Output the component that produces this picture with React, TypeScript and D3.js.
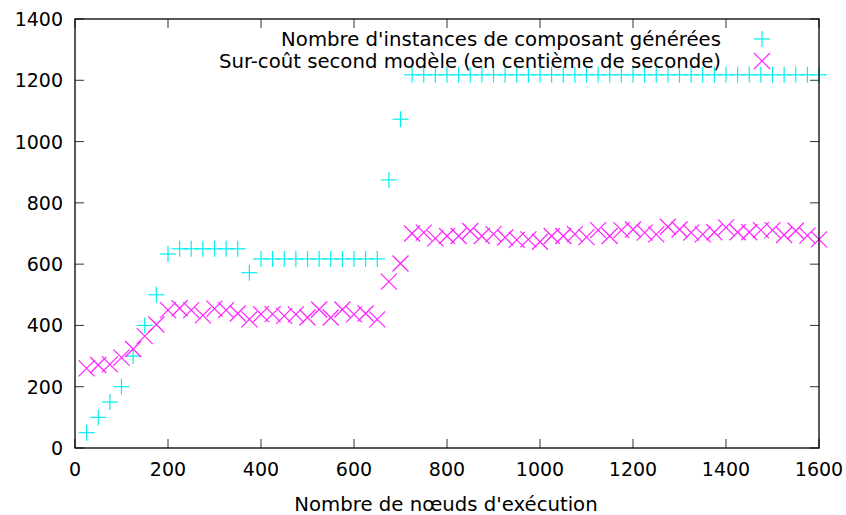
import React from "react";
import * as d3 from "d3";

const nodes = [
  25, 50, 75, 100, 125, 150, 175, 200, 225, 250, 275, 300, 325, 350, 375, 400,
  425, 450, 475, 500, 525, 550, 575, 600, 625, 650, 675, 700, 725, 750, 775, 800,
  825, 850, 875, 900, 925, 950, 975, 1000, 1025, 1050, 1075, 1100, 1125, 1150, 1175, 1200,
  1225, 1250, 1275, 1300, 1325, 1350, 1375, 1400, 1425, 1450, 1475, 1500, 1525, 1550, 1575, 1600,
];

const instances = [
  50, 100, 150, 200, 300, 400, 500, 633, 650, 650, 650, 650, 650, 650, 572, 617,
  617, 617, 617, 617, 617, 617, 617, 617, 617, 617, 875, 1073, 1218, 1218, 1218, 1218,
  1218, 1218, 1218, 1218, 1218, 1218, 1218, 1218, 1218, 1218, 1218, 1218, 1218, 1218, 1218, 1218,
  1218, 1218, 1218, 1218, 1218, 1218, 1218, 1218, 1218, 1218, 1218, 1218, 1218, 1218, 1218, 1218,
];

const overhead = [
  260, 271, 273, 295, 323, 365, 403, 450, 456, 450, 433, 455, 450, 439, 420, 437,
  437, 431, 436, 426, 452, 426, 452, 436, 439, 420, 543, 602, 700, 703, 684, 692,
  692, 708, 692, 698, 687, 679, 681, 673, 692, 692, 698, 688, 711, 692, 711, 713,
  703, 697, 722, 713, 703, 697, 704, 720, 704, 704, 711, 711, 695, 709, 693, 681,
];

const xTicks = [0, 200, 400, 600, 800, 1000, 1200, 1400, 1600];
const yTicks = [0, 200, 400, 600, 800, 1000, 1200, 1400];

const seriesLabels = [
  "Nombre d'instances de composant générées",
  "Sur-coût second modèle (en centième de seconde)",
];
const xTitle = "Nombre de nœuds d'exécution";

const W = 846;
const H = 515;
const L = 75;
const R = 819;
const T = 19;
const B = 448;
const FONT = "'DejaVu Sans', sans-serif";
const FS = 19;
const FS_TEXT = 19.7;
const CYAN = "#00f0f0";
const MAGENTA = "#ff22ff";
const MS = 8;

function Plus({ x, y, c }: { x: number; y: number; c: string }) {
  return (
    <g stroke={c} strokeWidth={1.2}>
      <line x1={x - MS} x2={x + MS} y1={y} y2={y} />
      <line x1={x} x2={x} y1={y - MS} y2={y + MS} />
    </g>
  );
}

function Cross({ x, y, c }: { x: number; y: number; c: string }) {
  return (
    <g stroke={c} strokeWidth={1.2}>
      <line x1={x - MS} x2={x + MS} y1={y - MS} y2={y + MS} />
      <line x1={x - MS} x2={x + MS} y1={y + MS} y2={y - MS} />
    </g>
  );
}

export default function App() {
  const x = d3.scaleLinear().domain([0, 1600]).range([L, R]);
  const y = d3.scaleLinear().domain([0, 1400]).range([B, T]);
  const tick = 9;

  return (
    <svg
      width={W}
      height={H}
      style={{ position: "absolute", left: 0, top: 0, background: "#fff" }}
      fontFamily={FONT}
      fontSize={FS}
    >
      <rect x={0} y={0} width={W} height={H} fill="#fff" />
      {/* ticks */}
      <g stroke="#333" strokeWidth={1}>
        {xTicks.map((t) => (
          <g key={"xt" + t}>
            <line x1={x(t)} x2={x(t)} y1={B} y2={B - tick} />
            <line x1={x(t)} x2={x(t)} y1={T} y2={T + tick} />
          </g>
        ))}
        {yTicks.map((t) => (
          <g key={"yt" + t}>
            <line x1={L} x2={L + tick} y1={y(t)} y2={y(t)} />
            <line x1={R} x2={R - tick} y1={y(t)} y2={y(t)} />
          </g>
        ))}
      </g>
      {/* tick labels */}
      {xTicks.map((t) => (
        <text key={"xl" + t} x={x(t)} y={476} textAnchor="middle" fill="#000">
          {t}
        </text>
      ))}
      {yTicks.map((t) => (
        <text key={"yl" + t} x={63} y={y(t) + 7} textAnchor="end" fill="#000">
          {t}
        </text>
      ))}
      <text x={446} y={511} textAnchor="middle" fill="#000" fontSize={FS_TEXT}>
        {xTitle}
      </text>
      {/* series */}
      {nodes.map((n, i) => (
        <Plus key={"p" + i} x={x(n)} y={y(instances[i])} c={CYAN} />
      ))}
      {nodes.map((n, i) => (
        <Cross key={"c" + i} x={x(n)} y={y(overhead[i])} c={MAGENTA} />
      ))}
      {/* legend */}
      <text x={721} y={46} textAnchor="end" fill="#000" fontSize={FS_TEXT}>
        {seriesLabels[0]}
      </text>
      <Plus x={762} y={39} c={CYAN} />
      <text x={721} y={68} textAnchor="end" fill="#000" fontSize={FS_TEXT}>
        {seriesLabels[1]}
      </text>
      <Cross x={762} y={61} c={MAGENTA} />
      {/* frame */}
      <rect x={L} y={T} width={R - L} height={B - T} fill="none" stroke="#000" strokeWidth={1.3} />
    </svg>
  );
}
